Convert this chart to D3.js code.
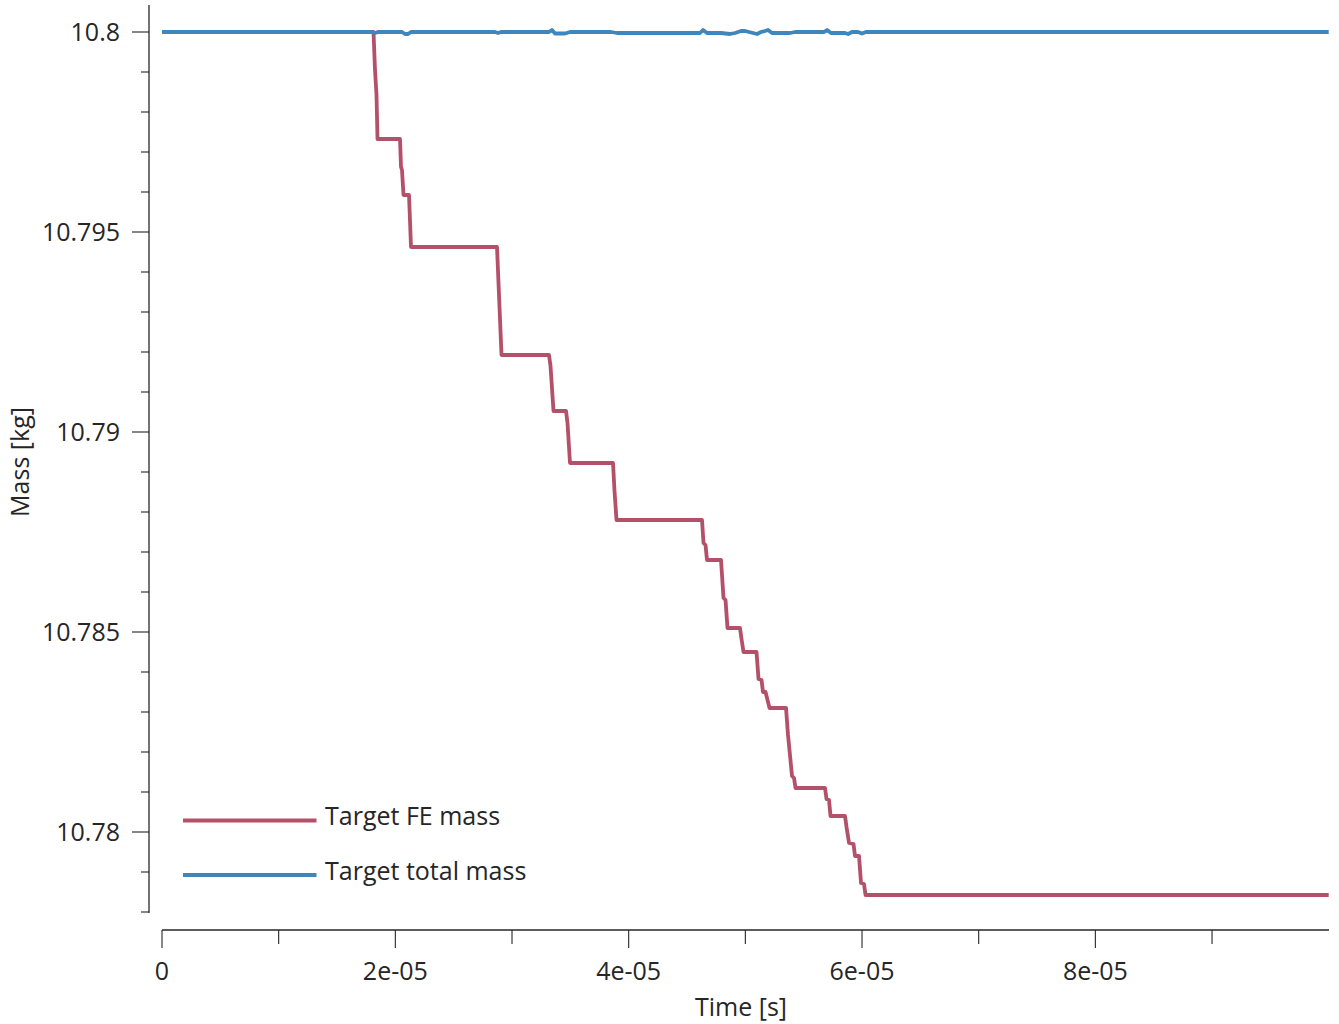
<!DOCTYPE html>
<html>
<head>
<meta charset="utf-8">
<script src="https://cdn.jsdelivr.net/npm/d3@7"></script>
<style>
  html, body { margin: 0; padding: 0; background: #fff; }
  svg { display: block; }
  text { font-family: "Open Sans", "Noto Sans", sans-serif; fill: #262626; }
</style>
</head>
<body>
<svg id="chart" width="1339" height="1024"></svg>
<script>
// ---- data ----
const feTime = [0, 1.8129e-5, 1.8257e-5, 1.8386e-5, 1.8471e-5, 2.0400e-5, 2.0486e-5, 2.0571e-5, 2.0700e-5,
  2.1171e-5, 2.1343e-5, 2.8714e-5, 2.9100e-5, 3.3171e-5, 3.3300e-5, 3.3557e-5, 3.4629e-5, 3.4757e-5,
  3.4971e-5, 3.8657e-5, 3.8786e-5, 3.8957e-5, 4.6286e-5, 4.6414e-5, 4.6586e-5, 4.6714e-5, 4.7914e-5,
  4.8129e-5, 4.8300e-5, 4.8471e-5, 4.9543e-5, 4.9671e-5, 4.9843e-5, 5.0957e-5, 5.1129e-5, 5.1386e-5,
  5.1514e-5, 5.1729e-5, 5.2071e-5, 5.3486e-5, 5.3657e-5, 5.4000e-5, 5.4171e-5, 5.4300e-5, 5.6829e-5,
  5.6957e-5, 5.7171e-5, 5.7300e-5, 5.8543e-5, 5.8671e-5, 5.8886e-5, 5.9271e-5, 5.9400e-5, 5.9743e-5,
  5.9914e-5, 6.0171e-5, 6.0300e-5, 1.0e-4];
const feMass = [10.8, 10.8, 10.79905, 10.798425, 10.797325, 10.797325, 10.796625, 10.79655, 10.795925,
  10.795925, 10.794625, 10.794625, 10.791925, 10.791925, 10.79165, 10.790525, 10.790525, 10.790225,
  10.789225, 10.789225, 10.788525, 10.7878, 10.7878, 10.787225, 10.787175, 10.7868, 10.7868,
  10.78585, 10.7858, 10.7851, 10.7851, 10.784825, 10.7845, 10.7845, 10.783825, 10.7838,
  10.7835, 10.7835, 10.7831, 10.7831, 10.782425, 10.7814, 10.78135, 10.7811, 10.7811,
  10.780825, 10.7808, 10.7804, 10.7804, 10.780125, 10.779725, 10.7797, 10.7794, 10.7794,
  10.778725, 10.7787, 10.778425, 10.778425];

const totalTime = [0, 1.8000e-5, 1.8257e-5, 1.8514e-5, 2.0571e-5, 2.0829e-5, 2.1086e-5, 2.1343e-5,
  2.8543e-5, 2.8800e-5, 2.9057e-5, 3.3171e-5, 3.3429e-5, 3.3686e-5, 3.4543e-5, 3.4971e-5, 3.8486e-5,
  3.9000e-5, 4.6114e-5, 4.6371e-5, 4.6714e-5, 4.7914e-5, 4.8686e-5, 4.9114e-5, 4.9629e-5, 4.9971e-5,
  5.0314e-5, 5.0657e-5, 5.1000e-5, 5.1343e-5, 5.1686e-5, 5.1943e-5, 5.2286e-5, 5.3829e-5, 5.4257e-5,
  5.6743e-5, 5.7000e-5, 5.7343e-5, 5.8543e-5, 5.8800e-5, 5.9143e-5, 5.9657e-5, 6.0000e-5, 6.0343e-5, 1.0e-4];
const totalMass = [10.8, 10.8, 10.799975, 10.8, 10.8, 10.79995, 10.79995, 10.8,
  10.8, 10.799975, 10.8, 10.8, 10.80005, 10.799963, 10.799963, 10.8, 10.8,
  10.799975, 10.799975, 10.80005, 10.799975, 10.799975, 10.79995, 10.799975, 10.800025, 10.800025,
  10.8, 10.799975, 10.79995, 10.8, 10.800025, 10.80005, 10.799975, 10.799975, 10.8,
  10.8, 10.80005, 10.799975, 10.799975, 10.79995, 10.8, 10.8, 10.799963, 10.8, 10.8];

const xTicksMajor = [0, 2e-5, 4e-5, 6e-5, 8e-5];
const xTickLabels = ["0", "2e-05", "4e-05", "6e-05", "8e-05"];
const xTicksMinor = [1e-5, 3e-5, 5e-5, 7e-5, 9e-5];
const yTicksMajor = [10.78, 10.785, 10.79, 10.795, 10.8];
const yTickLabels = ["10.78", "10.785", "10.79", "10.795", "10.8"];
const yTicksMinor = [10.778, 10.779, 10.781, 10.782, 10.783, 10.784, 10.786, 10.787, 10.788, 10.789,
  10.791, 10.792, 10.793, 10.794, 10.796, 10.797, 10.798, 10.799];

const seriesNames = ["Target FE mass", "Target total mass"];
const seriesColors = ["#b5506b", "#3f86bc"];

// ---- layout ----
const svg = d3.select("#chart");
const x = d3.scaleLinear().domain([0, 1e-4]).range([162, 1328.7]);
const y = d3.scaleLinear().domain([10.78, 10.8]).range([832, 32]);
const axisColor = "#262626";
const fs = 25;

// y axis
const yAxisX = 149;
svg.append("line").attr("x1", yAxisX).attr("x2", yAxisX).attr("y1", 5).attr("y2", 913)
  .attr("stroke", axisColor).attr("stroke-width", 1.3);
svg.selectAll(".ymaj").data(yTicksMajor).join("line")
  .attr("x1", yAxisX - 17).attr("x2", yAxisX).attr("y1", d => y(d)).attr("y2", d => y(d))
  .attr("stroke", axisColor).attr("stroke-width", 1.1);
svg.selectAll(".ymin").data(yTicksMinor).join("line")
  .attr("x1", yAxisX - 8).attr("x2", yAxisX).attr("y1", d => y(d)).attr("y2", d => y(d))
  .attr("stroke", axisColor).attr("stroke-width", 1.1);
svg.selectAll(".ylab").data(yTicksMajor).join("text")
  .attr("x", 120).attr("y", d => y(d)).attr("dy", "0.35em")
  .attr("text-anchor", "end").attr("font-size", fs)
  .text((d, i) => yTickLabels[i]);

// x axis
const xAxisY = 930;
svg.append("line").attr("x1", 162).attr("x2", 1329).attr("y1", xAxisY).attr("y2", xAxisY)
  .attr("stroke", axisColor).attr("stroke-width", 1.3);
svg.selectAll(".xmaj").data(xTicksMajor).join("line")
  .attr("x1", d => x(d)).attr("x2", d => x(d)).attr("y1", xAxisY).attr("y2", xAxisY + 18)
  .attr("stroke", axisColor).attr("stroke-width", 1.1);
svg.selectAll(".xmin").data(xTicksMinor).join("line")
  .attr("x1", d => x(d)).attr("x2", d => x(d)).attr("y1", xAxisY).attr("y2", xAxisY + 14)
  .attr("stroke", axisColor).attr("stroke-width", 1.1);
svg.selectAll(".xlab").data(xTicksMajor).join("text")
  .attr("x", d => x(d)).attr("y", 980)
  .attr("text-anchor", "middle").attr("font-size", fs)
  .text((d, i) => xTickLabels[i]);

// axis titles
svg.append("text").attr("x", 741).attr("y", 1016).attr("text-anchor", "middle")
  .attr("font-size", fs).text("Time [s]");
svg.append("text").attr("transform", "translate(29,462) rotate(-90)")
  .attr("text-anchor", "middle").attr("font-size", fs).text("Mass [kg]");

// lines
const line = d3.line().x(d => x(d[0])).y(d => y(d[1]));
const feData = feTime.map((t, i) => [t, feMass[i]]);
const totalData = totalTime.map((t, i) => [t, totalMass[i]]);
svg.append("path").datum(feData).attr("d", line).attr("fill", "none")
  .attr("stroke", seriesColors[0]).attr("stroke-width", 3.8).attr("stroke-linejoin", "round");
svg.append("path").datum(totalData).attr("d", line).attr("fill", "none")
  .attr("stroke", seriesColors[1]).attr("stroke-width", 3.8).attr("stroke-linejoin", "round");

// legend
const legendY = [820.5, 875];
seriesNames.forEach((name, i) => {
  svg.append("line").attr("x1", 183).attr("x2", 316.5).attr("y1", legendY[i]).attr("y2", legendY[i])
    .attr("stroke", seriesColors[i]).attr("stroke-width", 3.8);
  svg.append("text").attr("x", 325).attr("y", legendY[i] - 4).attr("dy", "0.35em")
    .attr("font-size", fs).text(name);
});
</script>
</body>
</html>
